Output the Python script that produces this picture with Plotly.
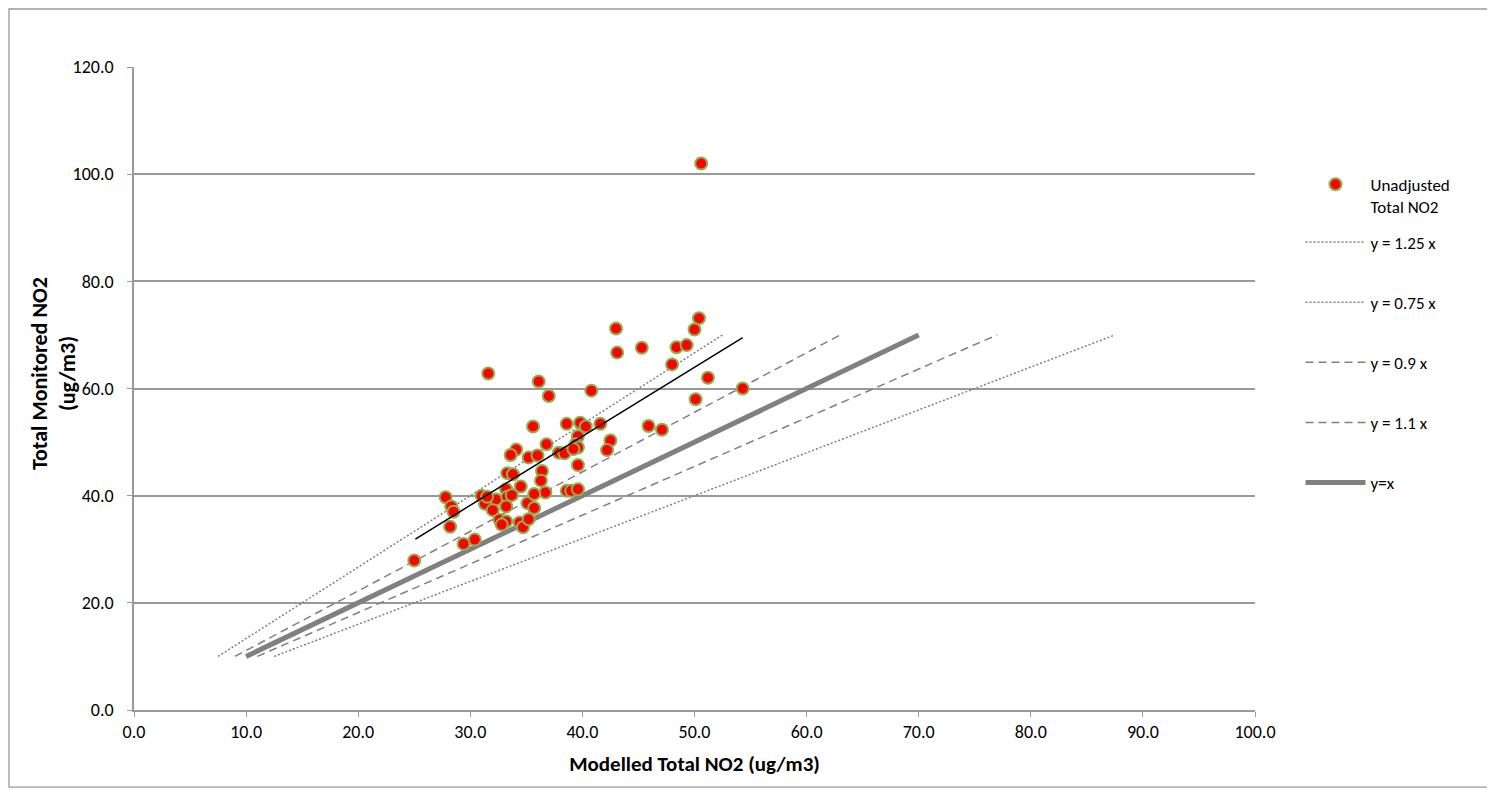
import plotly.graph_objects as go

# Unadjusted Total NO2: modelled (x) vs monitored (y)
modelled = [50.6, 31.6, 36.1, 37.0, 40.8, 35.6, 38.6, 39.8, 40.3, 41.6,
            39.6, 39.4, 39.6, 36.8, 34.1, 33.6, 35.2, 36.0, 37.9, 38.4,
            39.2, 39.6, 36.4, 36.3, 36.7, 33.3, 33.8, 34.5, 33.2, 32.3,
            31.0, 27.8, 28.3, 28.5, 28.2, 31.3, 32.0, 31.5, 33.3, 33.7,
            33.2, 35.1, 35.7, 35.7, 32.6, 33.2, 32.8, 34.4, 34.7, 35.2,
            30.4, 29.4, 25.0, 38.6, 39.0, 39.6, 50.4, 50.0, 43.0, 43.1,
            45.3, 48.4, 49.3, 48.0, 51.2, 54.3, 50.1, 45.9, 47.1, 42.5,
            42.2]
monitored = [102.0, 62.8, 61.3, 58.6, 59.6, 52.9, 53.4, 53.6, 52.9, 53.4,
             51.1, 49.6, 49.0, 49.6, 48.6, 47.6, 47.1, 47.5, 48.0, 47.9,
             48.7, 45.7, 44.6, 42.8, 40.6, 44.2, 44.0, 41.7, 41.2, 39.3,
             40.0, 39.7, 38.0, 37.0, 34.2, 38.5, 37.3, 39.8, 39.8, 40.1,
             38.0, 38.6, 40.3, 37.7, 35.5, 35.2, 34.6, 35.0, 34.1, 35.6,
             31.8, 31.0, 27.9, 40.9, 40.9, 41.2, 73.1, 71.0, 71.2, 66.7,
             67.6, 67.7, 68.1, 64.5, 62.0, 60.0, 58.0, 53.0, 52.3, 50.3,
             48.5]

# Reference lines (monitored range 10..70)
ref_y = [10, 70]
ref_x_125 = [7.5, 52.5]
ref_x_075 = [12.5, 87.5]
ref_x_09 = [9.0, 63.0]
ref_x_11 = [11.0, 77.0]
ref_x_1 = [10, 70]

# Linear trendline of the scatter
trend_x = [25.1, 54.3]
trend_y = [31.9, 69.5]

FONT = "Calibri, Carlito, Lato, sans-serif"
GRAY = "#808080"
AXGRAY = "#999999"

fig = go.Figure()

fig.add_trace(go.Scatter(x=ref_x_125, y=ref_y, mode="lines", name="y = 1.25 x",
                         line=dict(color=GRAY, width=1.5, dash="2px,2px"),
                         legend="legend2", legendgroup="a", legendrank=2))
fig.add_trace(go.Scatter(x=ref_x_075, y=ref_y, mode="lines", name="y = 0.75 x",
                         line=dict(color=GRAY, width=1.5, dash="2px,2px"),
                         legend="legend2", legendgroup="b", legendrank=3))
fig.add_trace(go.Scatter(x=ref_x_09, y=ref_y, mode="lines", name="y = 0.9 x",
                         line=dict(color=GRAY, width=1.5, dash="8px,5px"),
                         legend="legend2", legendgroup="c", legendrank=4))
fig.add_trace(go.Scatter(x=ref_x_11, y=ref_y, mode="lines", name="y = 1.1 x",
                         line=dict(color=GRAY, width=1.5, dash="8px,5px"),
                         legend="legend2", legendgroup="d", legendrank=5))
fig.add_trace(go.Scatter(x=ref_x_1, y=ref_y, mode="lines", name="y=x",
                         line=dict(color=GRAY, width=5),
                         legend="legend2", legendgroup="e", legendrank=6))

fig.add_trace(go.Scatter(x=modelled, y=monitored, mode="markers",
                         name="Unadjusted<br>Total NO2",
                         marker=dict(color="#FF0000", size=12,
                                     line=dict(color="#8DB04F", width=2)),
                         legend="legend", legendrank=1))

fig.add_trace(go.Scatter(x=trend_x, y=trend_y, mode="lines", showlegend=False,
                         line=dict(color="black", width=1.5)))

axis_common = dict(showline=True, linecolor=AXGRAY, linewidth=1.5,
                   ticks="outside", ticklen=5, tickcolor=AXGRAY,
                   tickformat=".1f", zeroline=False,
                   tickfont=dict(family=FONT, size=18, color="black"))

fig.update_xaxes(range=[0, 100], dtick=10, showgrid=False,
                 title=dict(text="<b>Modelled Total NO2 (ug/m3)</b>",
                            font=dict(family=FONT, size=21, color="black"),
                            standoff=14),
                 **axis_common)
fig.update_yaxes(range=[0, 120], dtick=20, showgrid=True,
                 gridcolor=AXGRAY, gridwidth=1.5, ticklabelstandoff=10,
                 **axis_common)

fig.update_layout(
    width=1487, height=782,
    margin=dict(l=126, r=240, t=59, b=80),
    paper_bgcolor="white", plot_bgcolor="white",
    font=dict(family=FONT, size=17, color="black"),
    legend=dict(x=1.0406, xanchor="left", y=0.845, yanchor="top",
                valign="top", itemwidth=60, bgcolor="rgba(0,0,0,0)",
                font=dict(family=FONT, size=17)),
    legend2=dict(x=1.0406, xanchor="left", y=0.755, yanchor="top",
                 itemwidth=60, tracegroupgap=35, traceorder="grouped",
                 bgcolor="rgba(0,0,0,0)",
                 font=dict(family=FONT, size=17)),
    annotations=[dict(text="<b>Total Monitored NO2<br>(ug/m3)</b>",
                      xref="paper", yref="paper", x=-0.072, y=0.523,
                      xanchor="center", yanchor="middle", textangle=-90,
                      showarrow=False,
                      font=dict(family=FONT, size=22, color="black"))],
    shapes=[dict(type="rect", xref="paper", yref="paper",
                 x0=-0.1115, x1=1.2096, y0=-0.1198, y1=1.0902,
                 line=dict(color=AXGRAY, width=1.3), layer="below")],
)

fig.write_html("out.html")
